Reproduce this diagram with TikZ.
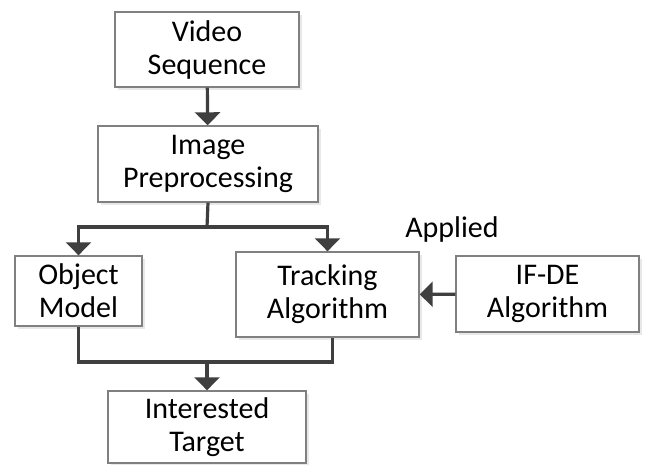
\documentclass[tikz,border=0pt]{standalone}
\usepackage{fontspec}
\setmainfont{Carlito}
\usepackage{xcolor}
\definecolor{boxLine} {HTML}{808080}
\definecolor{flowLine}{HTML}{3F3F3F}
\usetikzlibrary{arrows.meta, shadows}

\begin{document}
\begin{tikzpicture}[x=1pt, y=-1pt,
    box/.style={draw=boxLine, line width=1.4pt, fill=white, align=center,
                inner sep=0pt, font=\fontsize{30}{33}\selectfont,
                drop shadow={opacity=0.18, shadow xshift=3pt, shadow yshift=-3pt}},
    wire/.style={draw=flowLine, line width=3.2pt},
    flow/.style={wire, -{Triangle[width=25pt, length=13pt]}}]
    % Tracking pipeline: video in, preprocessing, two branches, target out.
    \useasboundingbox (0,0) rectangle (645,464);

    % --- Boxes ---
    \node[box, minimum width=184pt, minimum height=75pt] (video)  at (207,49.5) {Video\\Sequence};
    \node[box, minimum width=220pt, minimum height=76pt] (prep)   at (208,164)  {Image\\Preprocessing};
    \node[box, minimum width=127pt, minimum height=70pt] (object) at (78.5,291) {Object\\Model};
    \node[box, minimum width=183pt, minimum height=85pt] (track)  at (327.5,294.5) {Tracking\\Algorithm};
    \node[box, minimum width=183pt, minimum height=76pt] (ifde)   at (547.5,294) {IF-DE\\Algorithm};
    \node[box, minimum width=198pt, minimum height=72pt] (target) at (207,427)  {Interested\\Target};
    \node[font=\fontsize{30}{33}\selectfont] (applied) at (452,229) {Applied};

    % --- Branch and join points ---
    \coordinate (split) at (207,227);
    \coordinate (join)  at (207,362);

    % --- Connectors ---
    \draw[flow] (video) -- (prep);
    \draw[wire] (prep.south) -- (split);
    \draw[flow] (split) -| (object.north);
    \draw[flow] (split) -| (track.north);
    \draw[flow] (ifde) -- (track);
    \draw[wire] (object.south) |- (join) -| ([xshift=5pt]track.south);
    \draw[flow] (join) -- (target);
\end{tikzpicture}
\end{document}
